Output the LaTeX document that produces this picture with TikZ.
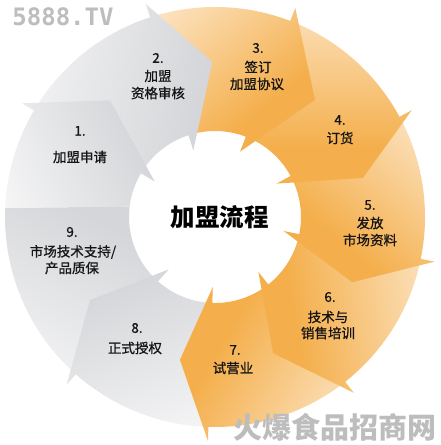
\documentclass[tikz,border=0pt]{standalone}
\usepackage{fontspec}
\setmainfont{Liberation Sans}
\newfontfamily\cjk{Noto Sans CJK SC}
\newfontfamily\cjkm[FakeBold=0.8]{Noto Sans CJK SC}
\newfontfamily\wmfont{DejaVu Sans Mono}
\definecolor{orD}{HTML}{F4AF4C}
\definecolor{orL}{HTML}{FFF9F2}
\definecolor{grD}{HTML}{D5D6D9}
\definecolor{grL}{HTML}{FFFFFF}
\definecolor{wmgray}{HTML}{BDBDBD}
\definecolor{txt}{HTML}{151515}
\pgfdeclareverticalshading{oshade}{100bp}{color(0bp)=(orD); color(36bp)=(orD); color(100bp)=(orL)}
\pgfdeclareverticalshading{gshade}{100bp}{color(0bp)=(grD); color(28bp)=(grD); color(100bp)=(grL)}
% segment: tail angle, head angle, tip angle, tip radius
\newcommand\segpath[4]{(#1:210) arc[start angle=#1, end angle=#2, radius=210] -- (#2:224) -- (#3:#4) -- (#2:70) -- (#2:86) arc[start angle=#2, end angle=#1, radius=86] -- cycle}
\tikzset{
  lbl/.style={font=\cjkm\fontsize{13.5}{16}\selectfont, inner sep=0pt, text=txt},
  numlbl/.style={font=\cjkm\fontsize{13.5}{16}\selectfont, inner sep=0pt, text=txt},
  title/.style={font=\cjk\bfseries\fontsize{24.5}{28}\selectfont, inner sep=0pt, text=black},
  orseg/.style={shading=oshade},
  grseg/.style={shading=gshade},
}
\begin{document}
\begin{tikzpicture}[x=1pt,y=1pt]
\fill[white] (-215,-228) rectangle (226,217);
\useasboundingbox (-215,-228) rectangle (226,217);
% segment 9 (flat head)
\shade[grseg, shading angle=153] (228.5:210) arc[start angle=228.5, end angle=177.5, radius=210] -- (173.1:86) arc[start angle=173.1, end angle=228.5, radius=86] -- cycle;
% segments 8 .. 2
\shade[grseg, shading angle=-160.6] \segpath{-91.8}{-131.5}{-146.4}{150};
\shade[orseg, shading angle=-120.8] \segpath{-51.7}{-91.8}{-103.8}{147};
\shade[orseg, shading angle=-80.6] \segpath{-11.5}{-51.7}{-66.9}{148};
\shade[orseg, shading angle=-40.5] \segpath{28.5}{-11.5}{-25.4}{152};
\shade[orseg, shading angle=0] \segpath{69}{28.5}{14.8}{153};
\shade[orseg, shading angle=39.5] \segpath{108}{69}{49.5}{154};
\shade[grseg, shading angle=80] \segpath{149.5}{108}{91}{155};
% segment 1 (flat tail)
\shade[grseg, shading angle=113] (177.5:210) arc[start angle=177.5, end angle=149.5, radius=210] -- (149.5:224) -- (132:157) -- (149.5:70) -- (149.5:86) arc[start angle=149.5, end angle=173.1, radius=86] -- cycle;
% labels
\node[numlbl] (n1) at (-135,86) {1.};
\node[lbl] (t1) at (-135,60) {加盟申请};
\node[numlbl] (n2) at (-57,159) {2.};
\node[lbl] (t2a) at (-57,141) {加盟};
\node[lbl] (t2b) at (-57,124) {资格审核};
\node[numlbl] (n3) at (43,169) {3.};
\node[lbl] (t3a) at (43,150) {签订};
\node[lbl] (t3b) at (42,133) {加盟协议};
\node[numlbl] (n4) at (125,97) {4.};
\node[lbl] (t4) at (125,79) {订货};
\node[numlbl] (n5) at (155,12) {5.};
\node[lbl] (t5a) at (155,-6) {发放};
\node[lbl] (t5b) at (155,-23) {市场资料};
\node[numlbl] (n6) at (115,-80) {6.};
\node[lbl] (t6a) at (113,-100) {技术与};
\node[lbl] (t6b) at (113,-116) {销售培训};
\node[numlbl] (n7) at (20,-133) {7.};
\node[lbl] (t7) at (18,-151) {试营业};
\node[numlbl] (n8) at (-78,-111) {8.};
\node[lbl] (t8) at (-80,-131) {正式授权};
\node[numlbl] (n9) at (-143,-15) {9.};
\node[lbl] (t9a) at (-142,-35) {市场技术支持/};
\node[lbl] (t9b) at (-143,-51) {产品质保};
\node[title] (ttl) at (5,0) {加盟流程};
% watermarks
\node[font=\wmfont\bfseries\fontsize{24}{26}\selectfont, text=wmgray, inner sep=0pt] (wm1) at (-152,200) {5888.TV};
\node[font=\cjk\bfseries\fontsize{29}{32}\selectfont, text=wmgray, inner sep=0pt] (wm2) at (120,-210) {火爆食品招商网};
\end{tikzpicture}
\end{document}
